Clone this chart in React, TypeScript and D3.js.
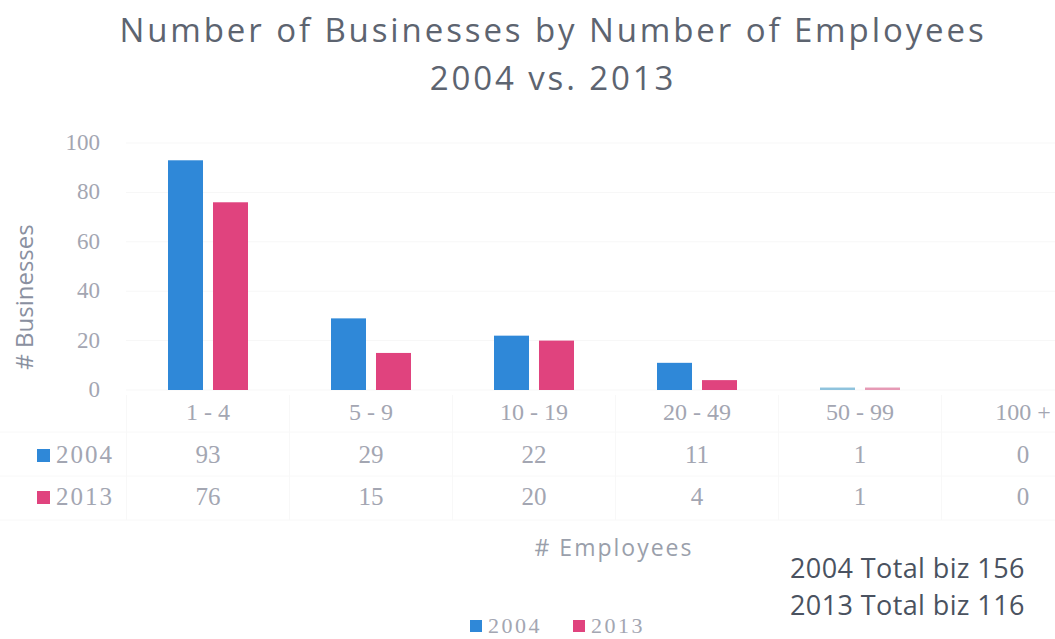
import React from "react";
import * as d3 from "d3";

const categories = ["1 - 4", "5 - 9", "10 - 19", "20 - 49", "50 - 99", "100 +"];
const values2004 = [93, 29, 22, 11, 1, 0];
const values2013 = [76, 15, 20, 4, 1, 0];
const yTicks = [0, 20, 40, 60, 80, 100];
const seriesNames = ["2004", "2013"];
const totals = ["2004 Total biz 156", "2013 Total biz 116"];

const W = 1055;
const H = 639;
const BLUE = "#2f88d8";
const PINK = "#e0437e";
const LABEL = "#a3a6b2";
const TICK_FONT = "'Liberation Serif', serif";
const SANS = "'Open Sans', sans-serif";

export default function App() {
  const x = d3.scaleBand<string>().domain(categories).range([126.5, 126.5 + 6 * 163]);
  const y = d3.scaleLinear().domain([0, 100]).range([390, 143]);
  const inner = d3.scaleBand<string>().domain(seriesNames).range([41.5, 121.5]).paddingInner(0.222);
  const series = [values2004, values2013];
  const colors = [BLUE, PINK];
  const rowY = [455, 497];

  return (
    <svg width={W} height={H} style={{ position: "absolute", left: 0, top: 0, background: "#fff" }}>
      <rect x={0} y={0} width={W} height={H} fill="#fff" />
      <text x={553} y={42} textAnchor="middle" fontFamily={SANS} fontSize={33} letterSpacing={2.9} fill="#5d6470">
        Number of Businesses by Number of Employees
      </text>
      <text x={553} y={90} textAnchor="middle" fontFamily={SANS} fontSize={33} letterSpacing={2.9} fill="#5d6470">
        2004 vs. 2013
      </text>

      {yTicks.map((t) => (
        <g key={t}>
          <line x1={126} x2={W} y1={y(t)} y2={y(t)} stroke="#f7f7f7" strokeWidth={1} />
          <text x={100} y={y(t) + 7} textAnchor="end" fontFamily={TICK_FONT} fontSize={23} fill={LABEL}>
            {t}
          </text>
        </g>
      ))}

      <text
        transform={`translate(33,297) rotate(-90)`}
        textAnchor="middle"
        fontFamily={SANS}
        fontSize={24}
        fill="#8a90a0"
      >
        # Businesses
      </text>

      {series.map((vals, si) =>
        vals.map((v, i) => {
          const bx = (x(categories[i]) ?? 0) + (inner(seriesNames[si]) ?? 0);
          const h = 390 - y(v);
          return (
            <rect
              key={`${si}-${i}`}
              x={bx}
              y={y(v)}
              width={inner.bandwidth()}
              height={h}
              fill={v <= 1 ? (si === 0 ? "#8fc3dd" : "#e69ab5") : colors[si]}
            />
          );
        })
      )}

      {/* table grid lines */}
      {categories.map((c) => (
        <line key={c} x1={x(c) ?? 0} x2={x(c) ?? 0} y1={395} y2={520} stroke="#f8f8f8" />
      ))}
      {[432, 476, 520].map((yy) => (
        <line key={yy} x1={0} x2={W} y1={yy} y2={yy} stroke="#f8f8f8" />
      ))}

      {categories.map((c) => (
        <text
          key={c}
          x={(x(c) ?? 0) + x.bandwidth() / 2}
          y={420}
          textAnchor="middle"
          fontFamily={TICK_FONT}
          fontSize={24}
          fill={LABEL}
        >
          {c}
        </text>
      ))}

      {series.map((vals, si) => (
        <g key={si}>
          <rect x={37} y={rowY[si] - 6} width={13} height={13} fill={colors[si]} />
          <text x={56} y={rowY[si] + 8} fontFamily={TICK_FONT} fontSize={25} letterSpacing={2} fill={LABEL}>
            {seriesNames[si]}
          </text>
          {vals.map((v, i) => (
            <text
              key={i}
              x={(x(categories[i]) ?? 0) + x.bandwidth() / 2}
              y={rowY[si] + 8}
              textAnchor="middle"
              fontFamily={TICK_FONT}
              fontSize={25}
              fill={LABEL}
            >
              {v}
            </text>
          ))}
        </g>
      ))}

      <text x={614} y={556} textAnchor="middle" fontFamily={SANS} fontSize={23} letterSpacing={2} fill="#9a9fab">
        # Employees
      </text>

      {totals.map((t, i) => (
        <text key={t} x={790} y={578 + i * 37} fontFamily={SANS} fontSize={27} letterSpacing={0.4} fill="#4a5260">
          {t}
        </text>
      ))}

      {seriesNames.map((s, i) => (
        <g key={s}>
          <rect x={470 + i * 103} y={620} width={12} height={12} fill={colors[i]} />
          <text x={488 + i * 103} y={633} fontFamily={TICK_FONT} fontSize={22} letterSpacing={2.5} fill={LABEL}>
            {s}
          </text>
        </g>
      ))}
    </svg>
  );
}
